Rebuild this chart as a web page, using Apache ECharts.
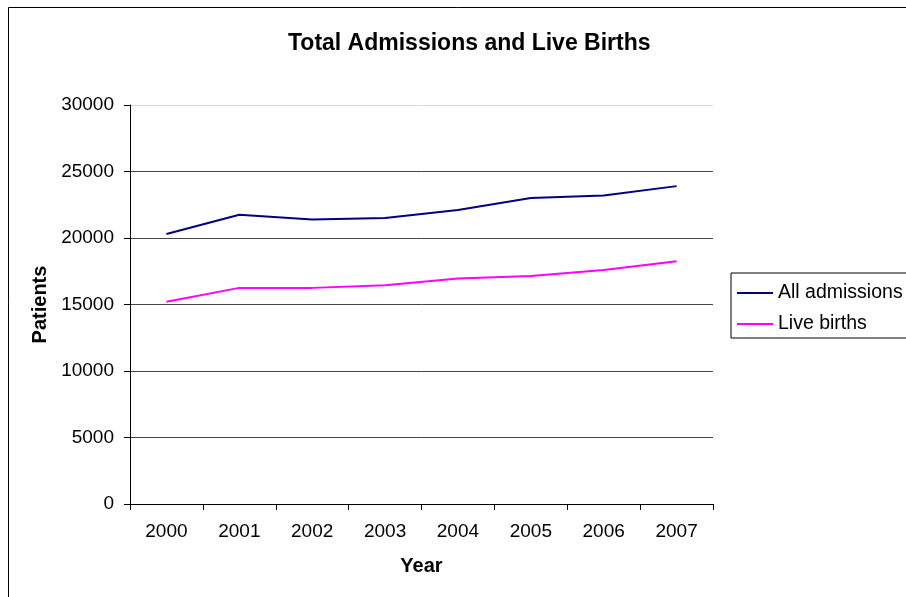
<!DOCTYPE html>
<html>
<head>
<meta charset="utf-8">
<script src="https://cdn.jsdelivr.net/npm/echarts@6/dist/echarts.min.js"></script>
<style>
  html, body { margin: 0; padding: 0; background: #fff; }
  #chart { width: 906px; height: 597px; }
</style>
</head>
<body>
<div id="chart"></div>
<script>
const years = ['2000', '2001', '2002', '2003', '2004', '2005', '2006', '2007']
const allAdmissions = [20300, 21750, 21400, 21500, 22100, 23000, 23200, 23900]
const liveBirths = [15200, 16250, 16250, 16450, 16950, 17150, 17600, 18250]

const font = 'Liberation Sans, Arial, sans-serif'

const chart = echarts.init(document.getElementById('chart'))

chart.setOption({
  animation: false,
  backgroundColor: '#fff',
  textStyle: { fontFamily: font },
  graphic: [
    {
      // outer chart border, right and bottom edges fall outside the picture
      type: 'rect',
      shape: { x: 8.5, y: 7.5, width: 1000, height: 1000 },
      style: { fill: 'none', stroke: '#000', lineWidth: 1 },
      silent: true,
      z: -1
    }
  ],
  title: {
    text: 'Total Admissions and Live Births',
    left: 288,
    top: 32,
    padding: 0,
    textStyle: { fontSize: 23, fontWeight: 'bold', color: '#000', fontFamily: font }
  },
  legend: {
    orient: 'vertical',
    left: 731,
    top: 273,
    padding: [10, 30, 4, 6],
    borderColor: '#000',
    borderWidth: 1,
    icon: 'rect',
    itemWidth: 36,
    itemHeight: 2,
    itemGap: 11,
    textStyle: { fontSize: 19.5, color: '#000', fontFamily: font },
    data: ['All admissions', 'Live births']
  },
  grid: { left: 130, right: 193, top: 105, bottom: 93 },
  xAxis: {
    type: 'category',
    data: years,
    boundaryGap: true,
    name: 'Year',
    nameLocation: 'middle',
    nameGap: 52,
    nameTextStyle: { fontSize: 20, fontWeight: 'bold', color: '#000', fontFamily: font },
    axisLine: { lineStyle: { color: '#000', width: 1 } },
    axisTick: { show: true, length: 6, alignWithLabel: false, lineStyle: { color: '#000' } },
    axisLabel: { fontSize: 19, color: '#000', margin: 18, fontFamily: font },
    splitLine: { show: false }
  },
  yAxis: {
    type: 'value',
    min: 0,
    max: 30000,
    interval: 5000,
    name: 'Patients',
    nameLocation: 'middle',
    nameRotate: 90,
    nameGap: 77,
    nameTextStyle: { fontSize: 20, fontWeight: 'bold', color: '#000', fontFamily: font },
    axisLine: { show: true, lineStyle: { color: '#000', width: 1 } },
    axisTick: { show: true, length: 6, lineStyle: { color: '#000' } },
    axisLabel: {
      fontSize: 19,
      color: '#000',
      margin: 16,
      fontFamily: font,
      formatter: v => String(v)
    },
    splitLine: {
      show: true,
      lineStyle: {
        color: ['#444', '#444', '#444', '#444', '#444', '#444', '#d9d9d9'],
        width: 1
      }
    }
  },
  series: [
    {
      name: 'All admissions',
      type: 'line',
      data: allAdmissions,
      symbol: 'none',
      lineStyle: { color: '#000080', width: 2 },
      itemStyle: { color: '#000080' }
    },
    {
      name: 'Live births',
      type: 'line',
      data: liveBirths,
      symbol: 'none',
      lineStyle: { color: '#ff00ff', width: 2 },
      itemStyle: { color: '#ff00ff' }
    }
  ]
})

window.addEventListener('resize', () => chart.resize())
</script>
</body>
</html>
